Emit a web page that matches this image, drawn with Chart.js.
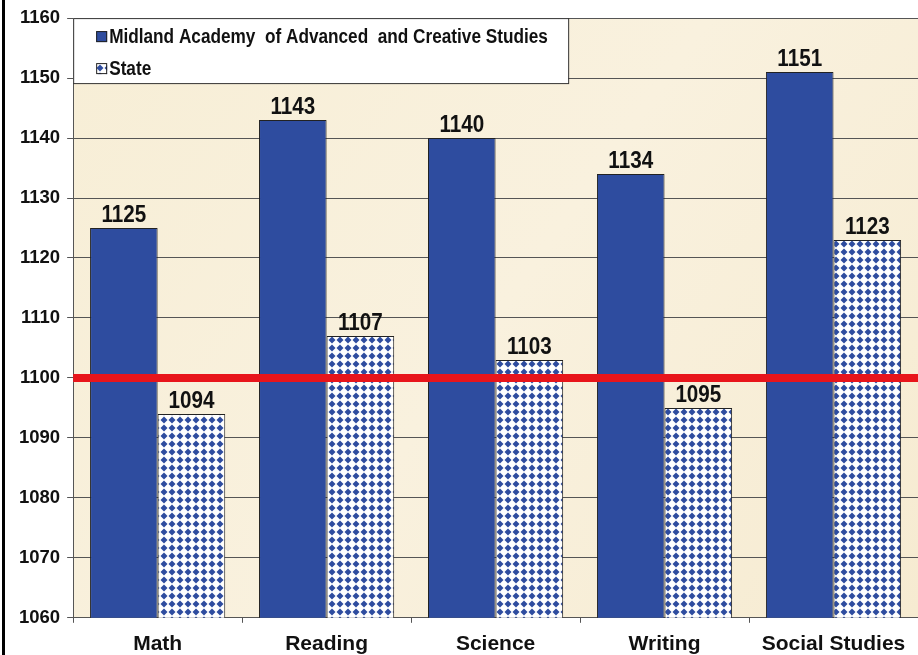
<!DOCTYPE html>
<html>
<head>
<meta charset="utf-8">
<script src="https://cdn.jsdelivr.net/npm/chart.js@4.4.1/dist/chart.umd.min.js"></script>
<style>
  html, body { margin: 0; padding: 0; background: #fff; }
  #wrap { width: 918px; height: 655px; position: relative; }
</style>
</head>
<body>
<div id="wrap"><canvas id="myChart"></canvas></div>
<script>
const subjects = ['Math', 'Reading', 'Science', 'Writing', 'Social Studies']
const schoolScores = [1125, 1143, 1140, 1134, 1151]
const stateScores = [1094, 1107, 1103, 1095, 1123]
const targetScore = 1100
const schoolLabel = 'Midland Academy  of Advanced  and Creative Studies'
const stateLabel = 'State'

const BLUE = '#2e4c9f'
const FONT = '"Liberation Sans", Arial, sans-serif'
const SQUEEZE = 0.86 // the original text is a little condensed

// checkered diamond fill for the State bars
function diamondPattern () {
  const c = document.createElement('canvas')
  c.width = 8
  c.height = 8
  const g = c.getContext('2d')
  g.fillStyle = '#ffffff'
  g.fillRect(0, 0, 8, 8)
  g.fillStyle = BLUE
  g.beginPath()
  g.moveTo(4, 0.5)
  g.lineTo(7.5, 4)
  g.lineTo(4, 7.5)
  g.lineTo(0.5, 4)
  g.closePath()
  g.fill()
  return g.createPattern(c, 'repeat')
}

function squeezedText (ctx, text, x, y) {
  ctx.save()
  ctx.translate(x, y)
  ctx.scale(SQUEEZE, 1)
  ctx.fillText(text, 0, 0)
  ctx.restore()
}

const plotBackground = {
  id: 'plotBackground',
  beforeDraw (chart) {
    const { ctx, chartArea: a } = chart
    ctx.save()
    const grad = ctx.createLinearGradient(a.left, a.top, a.right, a.bottom)
    grad.addColorStop(0, '#f7eed6')
    grad.addColorStop(0.5, '#f9f1de')
    grad.addColorStop(1, '#f6ebd1')
    ctx.fillStyle = grad
    ctx.fillRect(a.left, a.top, a.right - a.left, a.bottom - a.top)
    // frame line on the left of the picture
    ctx.fillStyle = '#000'
    ctx.fillRect(2, 0, 3, chart.height)
    ctx.restore()
  }
}

const targetLine = {
  id: 'targetLine',
  afterDatasetsDraw (chart) {
    const { ctx, chartArea: a, scales } = chart
    const y = scales.y.getPixelForValue(targetScore)
    ctx.save()
    ctx.strokeStyle = '#e8151b'
    ctx.lineWidth = 8
    ctx.beginPath()
    ctx.moveTo(a.left, y)
    ctx.lineTo(a.right, y)
    ctx.stroke()
    ctx.restore()
  }
}

const valueLabels = {
  id: 'valueLabels',
  afterDatasetsDraw (chart) {
    const { ctx } = chart
    ctx.save()
    ctx.font = 'bold 24px ' + FONT
    ctx.fillStyle = '#111'
    ctx.textAlign = 'center'
    ctx.textBaseline = 'alphabetic'
    chart.data.datasets.forEach((ds, i) => {
      chart.getDatasetMeta(i).data.forEach((bar, j) => {
        squeezedText(ctx, String(ds.data[j]), bar.x, bar.y - 6)
      })
    })
    ctx.restore()
  }
}

const boxLegend = {
  id: 'boxLegend',
  afterDatasetsDraw (chart) {
    const { ctx, chartArea: a } = chart
    const x = a.left
    const y = a.top
    const w = 495
    const h = 65
    ctx.save()
    ctx.fillStyle = '#fff'
    ctx.fillRect(x, y, w, h)
    ctx.strokeStyle = '#333'
    ctx.lineWidth = 1
    ctx.strokeRect(x + 0.5, y + 0.5, w, h)
    ctx.font = 'bold 20px ' + FONT
    ctx.textBaseline = 'middle'
    chart.data.datasets.forEach((ds, i) => {
      const cy = y + 18 + i * 32
      ctx.fillStyle = ds.backgroundColor
      ctx.fillRect(x + 23, cy - 5, 11, 11)
      ctx.strokeStyle = '#222'
      ctx.strokeRect(x + 23.5, cy - 4.5, 10, 10)
      ctx.fillStyle = '#111'
      squeezedText(ctx, ds.label, x + 36, cy + 1)
    })
    ctx.restore()
  }
}

const ctx = document.getElementById('myChart')
new Chart(ctx, {
  type: 'bar',
  data: {
    labels: subjects,
    datasets: [{
      label: schoolLabel,
      data: schoolScores,
      backgroundColor: BLUE,
      borderColor: '#222',
      borderWidth: 1,
      borderSkipped: 'bottom'
    },
    {
      label: stateLabel,
      data: stateScores,
      backgroundColor: diamondPattern(),
      borderColor: '#222',
      borderWidth: 1,
      borderSkipped: 'bottom'
    }]
  },
  options: {
    responsive: true,
    maintainAspectRatio: false,
    animation: false,
    layout: { padding: { top: 0, right: -4, left: 12, bottom: -11 } },
    datasets: {
      bar: { barPercentage: 1, categoryPercentage: 0.8 }
    },
    scales: {
      y: {
        min: 1060,
        max: 1160,
        ticks: {
          stepSize: 10,
          color: '#111',
          padding: 7,
          callback: (v) => String(v),
          font: { family: FONT, size: 18.5, weight: 'bold' }
        },
        grid: { color: '#555', lineWidth: 1, tickLength: 6 },
        border: { color: '#555', width: 1 }
      },
      x: {
        ticks: {
          color: '#111',
          padding: 9,
          font: { family: FONT, size: 21, weight: 'bold' }
        },
        grid: { drawOnChartArea: false, offset: true, color: '#555', tickLength: 5 },
        border: { color: '#555', width: 1 }
      }
    },
    plugins: {
      legend: { display: false },
      tooltip: { enabled: false }
    }
  },
  plugins: [plotBackground, targetLine, valueLabels, boxLegend]
})
</script>
</body>
</html>
